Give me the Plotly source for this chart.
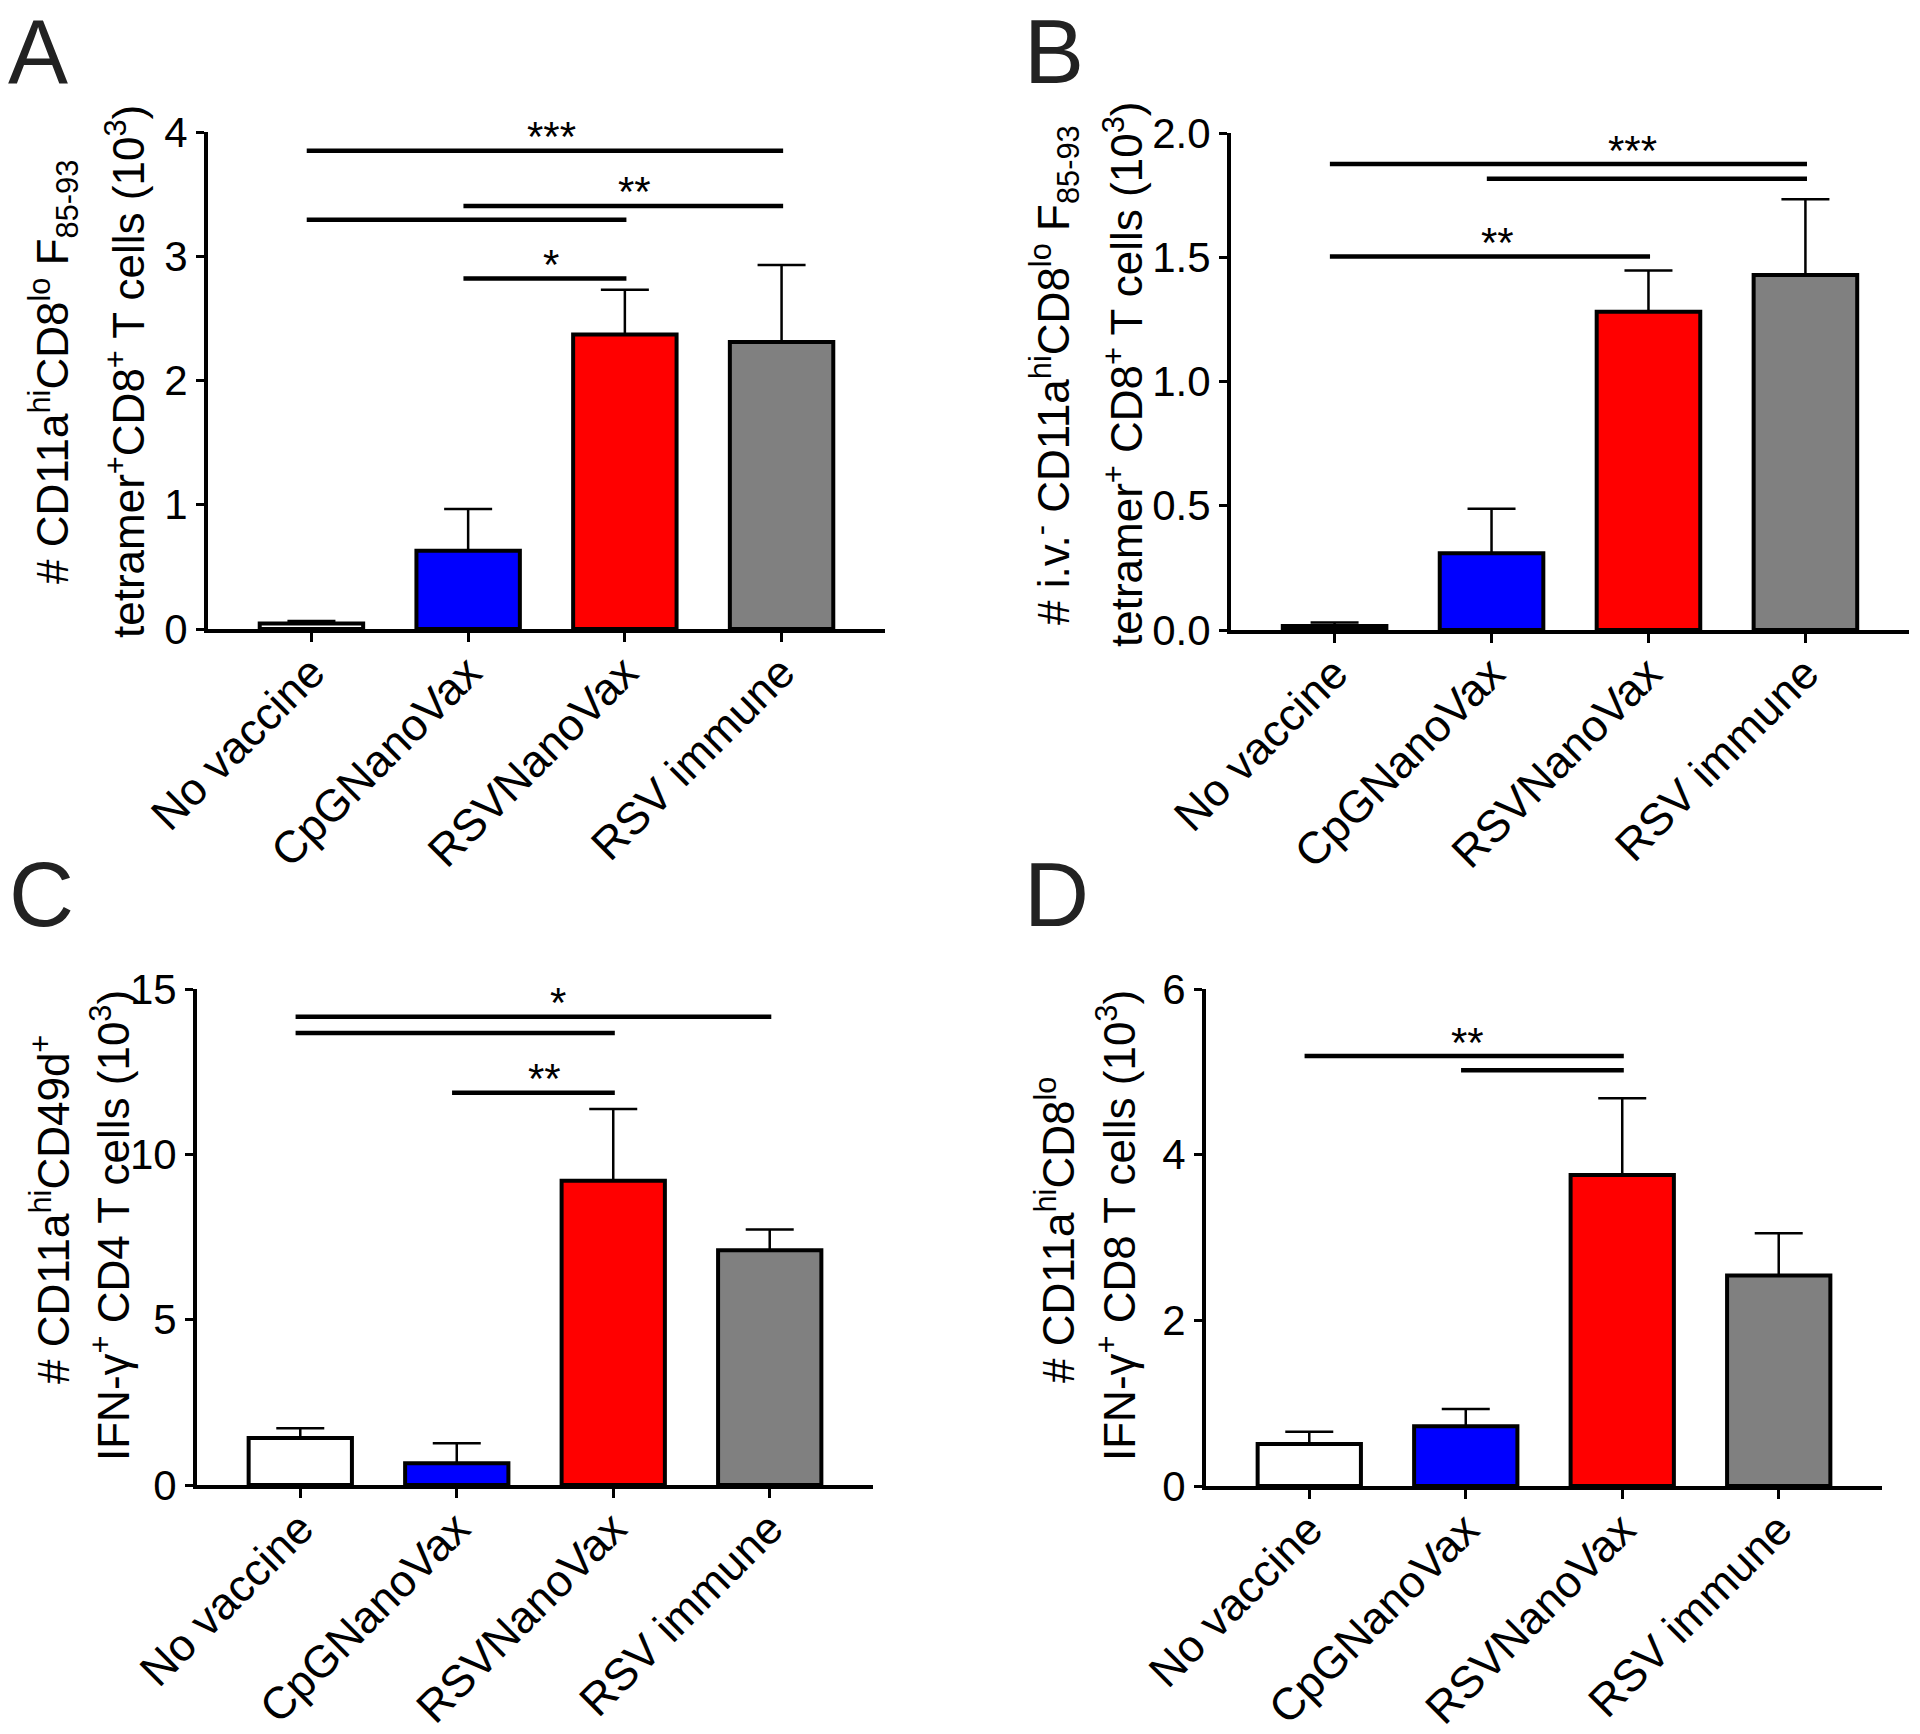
import plotly.graph_objects as go

W, H = 1920, 1734
FONT = "Liberation Sans, Arial, sans-serif"

categories = ["No vaccine", "CpGNanoVax", "RSVNanoVax", "RSV immune"]
bar_colors = ["#FFFFFF", "#0000FF", "#FF0000", "#808080"]

# Panel A
a_mean = [0.045, 0.63, 2.37, 2.31]
a_err = [0.02, 0.335, 0.36, 0.62]
a_ticks = [0, 1, 2, 3, 4]
a_tick_text = ["0", "1", "2", "3", "4"]
a_sig_lines = [(0, 3, 3.85), (1, 3, 3.405), (0, 2, 3.294), (1, 2, 2.82)]
a_sig_text = [("***", 1.53, 3.85), ("**", 2.06, 3.405), ("*", 1.53, 2.82)]

# Panel B
b_mean = [0.016, 0.309, 1.281, 1.429]
b_err = [0.014, 0.179, 0.166, 0.304]
b_ticks = [0, 0.5, 1.0, 1.5, 2.0]
b_tick_text = ["0.0", "0.5", "1.0", "1.5", "2.0"]
b_sig_lines = [(0, 3, 1.875), (1, 3, 1.816), (0, 2, 1.503)]
b_sig_text = [("***", 1.9, 1.875), ("**", 1.04, 1.503)]

# Panel C
c_mean = [1.42, 0.66, 9.2, 7.10]
c_err = [0.30, 0.60, 2.17, 0.63]
c_ticks = [0, 5, 10, 15]
c_tick_text = ["0", "5", "10", "15"]
c_sig_lines = [(0, 3, 14.16), (0, 2, 13.67), (1, 2, 11.86)]
c_sig_text = [("*", 1.65, 14.16), ("**", 1.56, 11.86)]

# Panel D
d_mean = [0.506, 0.721, 3.755, 2.54]
d_err = [0.148, 0.209, 0.925, 0.51]
d_ticks = [0, 2, 4, 6]
d_tick_text = ["0", "2", "4", "6"]
d_sig_lines = [(0, 2, 5.19), (1, 2, 5.02)]
d_sig_text = [("**", 1.01, 5.19)]

panels = [
    dict(letter="A", mean=a_mean, err=a_err, ticks=a_ticks, ttext=a_tick_text, ymax=4,
         lines=a_sig_lines, stars=a_sig_text,
         px_x=(208, 885), px_y=(132, 629),
         title1="# CD11a<sup>hi</sup>CD8<sup>lo</sup> F<sub>85-93</sub>",
         title2="tetramer<sup>+</sup>CD8<sup>+</sup> T cells (10<sup>3</sup>)",
         t1x=54, t2x=126, t1y=372, t2y=372, lx=6, ly=0, lanchor="top"),
    dict(letter="B", mean=b_mean, err=b_err, ticks=b_ticks, ttext=b_tick_text, ymax=2.0,
         lines=b_sig_lines, stars=b_sig_text,
         px_x=(1231, 1909), px_y=(133, 630),
         title1="# i.v.<sup>-</sup> CD11a<sup>hi</sup>CD8<sup>lo</sup> F<sub>85-93</sub>",
         title2="tetramer<sup>+</sup> CD8<sup>+</sup> T cells (10<sup>3</sup>)",
         t1x=1055, t2x=1124, t1y=375, t2y=375, lx=1022, ly=0, lanchor="top"),
    dict(letter="C", mean=c_mean, err=c_err, ticks=c_ticks, ttext=c_tick_text, ymax=15,
         lines=c_sig_lines, stars=c_sig_text,
         px_x=(197, 873), px_y=(989, 1485),
         title1="# CD11a<sup>hi</sup>CD49d<sup>+</sup>",
         title2="IFN-γ<sup>+</sup> CD4 T cells (10<sup>3</sup>)",
         t1x=50, t2x=110, t1y=1210, t2y=1226, lx=7, ly=895, lanchor="middle"),
    dict(letter="D", mean=d_mean, err=d_err, ticks=d_ticks, ttext=d_tick_text, ymax=6,
         lines=d_sig_lines, stars=d_sig_text,
         px_x=(1206, 1882), px_y=(989, 1486),
         title1="# CD11a<sup>hi</sup>CD8<sup>lo</sup>",
         title2="IFN-γ<sup>+</sup> CD8 T cells (10<sup>3</sup>)",
         t1x=1055, t2x=1116, t1y=1230, t2y=1226, lx=1022, ly=895, lanchor="middle"),
]

fig = go.Figure()
layout = dict(
    template="none",
    width=W, height=H, margin=dict(l=0, r=0, t=0, b=0, pad=0, autoexpand=False),
    paper_bgcolor="white", plot_bgcolor="white", showlegend=False,
    font=dict(family=FONT, color="black"),
)
annotations = []
shapes = []

for i, p in enumerate(panels):
    n = "" if i == 0 else str(i + 1)
    xa, ya = "x" + n, "y" + n
    fig.add_trace(go.Bar(
        x=list(range(len(categories))), y=p["mean"], width=0.66,
        marker=dict(color=bar_colors, line=dict(color="black", width=4)),
        error_y=dict(type="data", symmetric=False, array=p["err"],
                     arrayminus=[0] * len(p["err"]), color="black",
                     thickness=2.5, width=24),
        xaxis=xa, yaxis=ya, hoverinfo="skip",
    ))
    x0, x1 = p["px_x"]
    y0, y1 = p["px_y"]
    layout["xaxis" + n] = dict(
        domain=[x0 / W, x1 / W], anchor=ya, range=[-0.66, 3.66], automargin=False,
        tickmode="array", tickvals=list(range(4)), ticktext=categories,
        tickangle=-45, ticks="outside", ticklen=9, tickwidth=3, tickcolor="black",
        ticklabelstandoff=-14,
        showline=True, linewidth=4, linecolor="black", showgrid=False,
        zeroline=False, tickfont=dict(size=45, family=FONT, color="black"),
    )
    layout["yaxis" + n] = dict(
        domain=[1 - y1 / H, 1 - y0 / H], anchor=xa, range=[0, p["ymax"]], automargin=False,
        tickmode="array", tickvals=p["ticks"], ticktext=p["ttext"],
        ticks="outside", ticklen=8, tickwidth=3, tickcolor="black",
        showline=True, linewidth=4, linecolor="black", showgrid=False,
        zeroline=False, tickfont=dict(size=42, family=FONT, color="black"),
    )
    for (c0, c1, yv) in p["lines"]:
        shapes.append(dict(type="line", xref=xa, yref=ya, x0=c0 - 0.03, x1=c1 + 0.01,
                           y0=yv, y1=yv, line=dict(color="black", width=4.5)))
    for (txt, xc, yv) in p["stars"]:
        annotations.append(dict(text=txt, xref=xa, yref=ya, x=xc, y=yv,
                                xanchor="center", yanchor="middle", yshift=14,
                                showarrow=False, font=dict(size=42, family=FONT)))
    annotations.append(dict(text=p["title1"], xref="paper", yref="paper",
                            x=p["t1x"] / W, y=1 - p["t1y"] / H, textangle=-90,
                            xanchor="center", yanchor="middle", showarrow=False,
                            font=dict(size=44, family=FONT)))
    annotations.append(dict(text=p["title2"], xref="paper", yref="paper",
                            x=p["t2x"] / W, y=1 - p["t2y"] / H, textangle=-90,
                            xanchor="center", yanchor="middle", showarrow=False,
                            font=dict(size=44, family=FONT)))
    annotations.append(dict(text=p["letter"], xref="paper", yref="paper",
                            x=p["lx"] / W, y=1 - p["ly"] / H,
                            xanchor="left", yanchor=p["lanchor"], showarrow=False,
                            font=dict(size=90, family=FONT, color="#222222")))

layout["annotations"] = annotations
layout["shapes"] = shapes
fig.update_layout(**layout)
fig.write_html("out.html", config={"displayModeBar": False},
               post_script="document.body.style.margin='0px';")
